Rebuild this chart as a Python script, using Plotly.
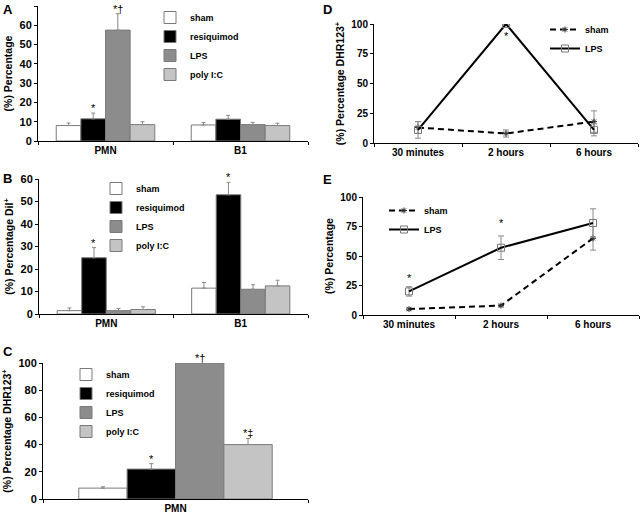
import plotly.graph_objects as go

# ---------------- data ----------------
groups = ["sham", "resiquimod", "LPS", "poly I:C"]
bar_colors = ["#ffffff", "#000000", "#8c8c8c", "#c4c4c4"]

cats_ab = ["PMN", "B1"]
a_vals = {"sham": [8.0, 8.3], "resiquimod": [11.5, 11.3], "LPS": [57.5, 8.5], "poly I:C": [8.5, 8.0]}
a_errs = {"sham": [1.3, 1.3], "resiquimod": [3.0, 2.0], "LPS": [8.5, 1.2], "poly I:C": [1.5, 1.2]}
a_marks = [("resiquimod", 0, "*"), ("LPS", 0, "*†")]

b_vals = {"sham": [1.5, 11.5], "resiquimod": [25.0, 53.0], "LPS": [1.5, 11.0], "poly I:C": [2.0, 12.5]}
b_errs = {"sham": [1.2, 2.5], "resiquimod": [4.5, 5.5], "LPS": [1.0, 2.0], "poly I:C": [1.2, 2.5]}
b_marks = [("resiquimod", 0, "*"), ("resiquimod", 1, "*")]

cats_c = ["PMN"]
c_vals = {"sham": [8.0], "resiquimod": [22.0], "LPS": [100.0], "poly I:C": [40.0]}
c_errs = {"sham": [1.0], "resiquimod": [4.0], "LPS": [0.0], "poly I:C": [4.5]}
c_marks = [("resiquimod", 0, "*"), ("LPS", 0, "*†"), ("poly I:C", 0, "*‡")]

times = ["30 minutes", "2 hours", "6 hours"]
d_sham = [13, 8, 18]
d_sham_err = [5, 3, 9]
d_lps = [11, 100, 11]
d_lps_err = [7, 0, 5]
d_marks = [(1, 90, "*")]

e_sham = [5, 8, 65]
e_sham_err = [1, 1, 10]
e_lps = [20, 57, 78]
e_lps_err = [4, 10, 12]
e_marks = [(0, 31, "*"), (1, 78, "*")]

# ---------------- figure ----------------
W, H = 640, 516
FONT = "Arial, Liberation Sans, sans-serif"
BARGAP = 0.27

def px_x(p):
    return p / W

def px_y(p):
    return 1 - p / H

fig = go.Figure()

panels = {
    "A": dict(x="x", y="y", xa="xaxis", ya="yaxis", dom_x=(38, 308), dom_y=(141, 6), rng=[0, 70], dt=10),
    "B": dict(x="x2", y="y2", xa="xaxis2", ya="yaxis2", dom_x=(39, 308), dom_y=(314, 179), rng=[0, 60], dt=10),
    "C": dict(x="x3", y="y3", xa="xaxis3", ya="yaxis3", dom_x=(43, 308), dom_y=(499, 363), rng=[0, 100], dt=20),
    "D": dict(x="x4", y="y4", xa="xaxis4", ya="yaxis4", dom_x=(374, 638), dom_y=(143, 24), rng=[0, 100], dt=25),
    "E": dict(x="x5", y="y5", xa="xaxis5", ya="yaxis5", dom_x=(363, 639), dom_y=(315, 197), rng=[0, 100], dt=25),
}

bar_sets = [("A", cats_ab, a_vals, a_errs, a_marks, "legend"),
            ("B", cats_ab, b_vals, b_errs, b_marks, "legend2"),
            ("C", cats_c, c_vals, c_errs, c_marks, "legend3")]

annotations = []
ngrp = len(groups)
wbar = (1 - BARGAP) / ngrp
for key, cats, vals, errs, marks, leg in bar_sets:
    p = panels[key]
    for g, col in zip(groups, bar_colors):
        fig.add_trace(go.Bar(
            x=cats, y=vals[g], name=g, xaxis=p["x"], yaxis=p["y"], legend=leg,
            marker=dict(color=col, line=dict(color="#7a7a7a", width=1)),
            error_y=dict(type="data", array=errs[g], symmetric=False, arrayminus=[0] * len(cats),
                         color="#8a8a8a", thickness=1, width=2),
        ))
    for g, ci, txt in marks:
        gi = groups.index(g)
        xc = ci - (1 - BARGAP) / 2 + (gi + 0.5) * wbar
        yt = vals[g][ci] + errs[g][ci]
        annotations.append(dict(x=xc, y=yt, xref=p["x"], yref=p["y"], text=txt, showarrow=False,
                                yanchor="bottom", yshift=-3,
                                font=dict(family=FONT, size=11, color="#000")))

line_sets = [("D", d_sham, d_sham_err, d_lps, d_lps_err, d_marks, "legend4"),
             ("E", e_sham, e_sham_err, e_lps, e_lps_err, e_marks, "legend5")]
for key, sv, se, lv, le, marks, leg in line_sets:
    p = panels[key]
    fig.add_trace(go.Scatter(
        x=times, y=sv, name="sham", xaxis=p["x"], yaxis=p["y"], legend=leg, mode="lines+markers",
        line=dict(color="#000", width=2, dash="6px,4px"),
        marker=dict(symbol="asterisk-open", size=5, color="#333", line=dict(color="#333", width=1)),
        error_y=dict(type="data", array=se, color="#8a8a8a", thickness=1, width=3),
    ))
    fig.add_trace(go.Scatter(
        x=times, y=lv, name="LPS", xaxis=p["x"], yaxis=p["y"], legend=leg, mode="lines+markers",
        line=dict(color="#000", width=2),
        marker=dict(symbol="square-open", size=7, color="#777", line=dict(color="#777", width=1)),
        error_y=dict(type="data", array=le, color="#8a8a8a", thickness=1, width=3),
    ))
    for ci, yv, txt in marks:
        annotations.append(dict(x=ci, y=yv, xref=p["x"], yref=p["y"], text=txt, showarrow=False,
                                yanchor="middle", font=dict(family=FONT, size=11, color="#000")))

# panel letters
for letter, (lx, ly) in {"A": (1, 0), "B": (1, 169), "C": (1, 342), "D": (321, 0), "E": (321, 170)}.items():
    annotations.append(dict(x=px_x(lx), y=px_y(ly), xref="paper", yref="paper", text=letter,
                            showarrow=False, xanchor="left", yanchor="top",
                            font=dict(family=FONT, size=13, color="#000", weight="bold")))

ytitles = {"A": "(%) Percentage", "B": "(%) Percentage DiI<sup>+</sup>",
           "C": "(%) Percentage DHR123<sup>+</sup>", "D": "(%) Percentage DHR123<sup>+</sup>",
           "E": "(%) Percentage"}

layout = dict(
    width=W, height=H, margin=dict(l=0, r=0, t=0, b=0, autoexpand=False),
    paper_bgcolor="#fff", plot_bgcolor="#fff",
    barmode="group", bargap=BARGAP, bargroupgap=0,
    font=dict(family=FONT, color="#000"),
    annotations=annotations,
)

for key, p in panels.items():
    tick_size = 11 if key in "ABC" else 10
    layout[p["xa"]] = dict(
        domain=[px_x(p["dom_x"][0]), px_x(p["dom_x"][1])], anchor=p["y"], automargin=False,
        showline=True, linecolor="#000", linewidth=1, ticks="outside", ticklen=3,
        tickson="boundaries", tickcolor="#000", showgrid=False, zeroline=False,
        tickfont=dict(family=FONT, size=10, color="#000", weight="bold"), fixedrange=True,
    )
    layout[p["ya"]] = dict(
        domain=[px_y(p["dom_y"][0]), px_y(p["dom_y"][1])], anchor=p["x"], automargin=False,
        range=p["rng"], dtick=p["dt"], tick0=0,
        showline=True, linecolor="#000", linewidth=1, ticks="outside", ticklen=3, tickcolor="#000",
        showgrid=False, zeroline=False,
        tickfont=dict(family=FONT, size=tick_size, color="#000", weight="bold"),
        title=dict(text=ytitles[key], font=dict(family=FONT, size=10.5, color="#000", weight="bold"), standoff=4),
    )

layout[panels["A"]["xa"]]["range"] = [-0.5, 1.5]
layout[panels["B"]["xa"]]["range"] = [-0.5, 1.5]
layout[panels["C"]["xa"]]["range"] = [-0.5, 0.5]
layout[panels["D"]["xa"]]["range"] = [-0.5, 2.5]
layout[panels["E"]["xa"]]["range"] = [-0.5, 2.5]

leg_common = dict(xanchor="left", yanchor="top", bgcolor="rgba(0,0,0,0)", borderwidth=0,
                  font=dict(family=FONT, size=9, color="#000", weight="bold"), tracegroupgap=0,
                  itemwidth=30, itemclick=False, itemdoubleclick=False)
layout["legend"] = dict(leg_common, x=px_x(150), y=px_y(3))
layout["legend2"] = dict(leg_common, x=px_x(96), y=px_y(174))
layout["legend3"] = dict(leg_common, x=px_x(66), y=px_y(360))
layout["legend4"] = dict(leg_common, x=px_x(545), y=px_y(15))
layout["legend5"] = dict(leg_common, x=px_x(384), y=px_y(196))

fig.update_layout(**layout)
fig.write_html("out.html", config={"displayModeBar": False},
               post_script="document.body.style.margin='0';")
